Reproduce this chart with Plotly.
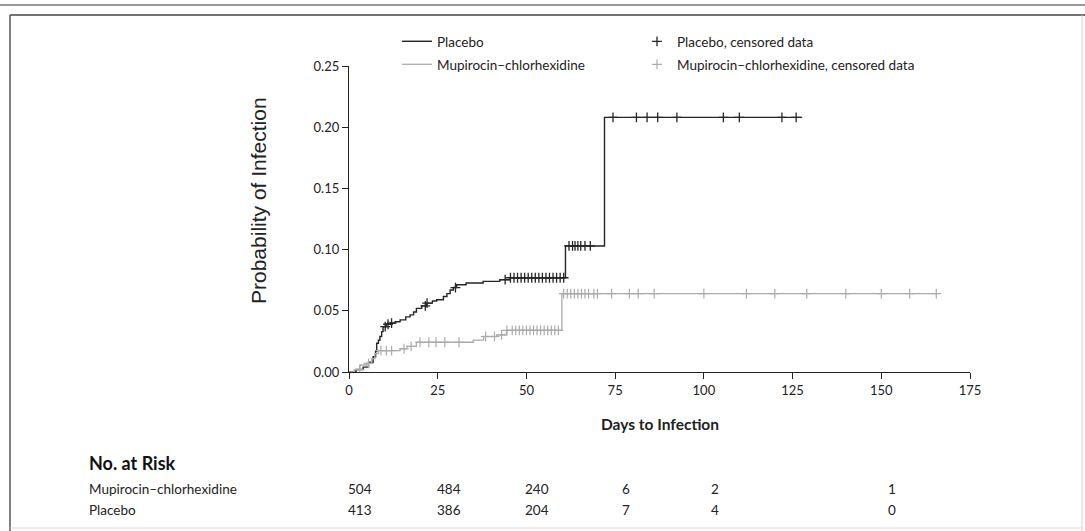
import numpy as np
import plotly.graph_objects as go

# ---------------- data ----------------
# cumulative probability of infection (step function), time in days
placebo_days = [0, 2, 4, 5.5, 6.8, 7.5, 7.8, 8.3, 8.7, 9.2, 9.6, 10.5, 11.6, 13, 14.4, 16, 17.2, 18.2,
                19, 20.5, 21.9, 23.5, 24.7, 26.6, 27.6, 28.5, 29.4, 30.3, 33, 37.8, 42.5, 45.4, 61, 72]
placebo_prob = [0, 0.002, 0.004, 0.008, 0.0125, 0.017, 0.0235, 0.026, 0.029, 0.033, 0.037, 0.039, 0.040,
                0.041, 0.0426, 0.045, 0.0467, 0.049, 0.052, 0.054, 0.0563, 0.058, 0.059, 0.0617, 0.064,
                0.067, 0.069, 0.0713, 0.0727, 0.074, 0.0754, 0.0770, 0.103, 0.208]
placebo_end = 127.7

mupi_days = [0, 1.5, 3.1, 5, 6.4, 7.3, 8.3, 14.4, 16.3, 19, 35, 37.9, 41.6, 44.4, 60]
mupi_prob = [0, 0.002, 0.0057, 0.007, 0.011, 0.015, 0.0175, 0.019, 0.021, 0.0243, 0.026, 0.029,
             0.0303, 0.0340, 0.064]
mupi_end = 166

placebo_cens = [10.2, 11, 12, 21.5, 22, 30, 44, 45.5, 46.5, 47.5, 48.5, 49.5, 50.5, 51.5, 52.5, 53.5,
                54.5, 55.5, 56.5, 57.5, 58.5, 59.5, 60.5, 62, 63, 63.7, 64.5, 65.3, 66.5, 68,
                74.4, 81, 84, 87, 92.4, 105.5, 110, 122, 126]
mupi_cens = [3, 5.5, 9, 10.5, 12, 15.5, 17.5, 20, 22.5, 24.5, 27, 31, 38.5, 41, 43, 44.5, 46, 47,
             48, 49, 50, 51, 52, 53, 54, 55, 56, 57, 58, 59, 60.5, 61.5, 62.5, 63.5, 64.5, 65.5, 66.5,
             67.5, 69, 70, 74, 79, 81.5, 86, 100, 112, 120, 129, 140, 150, 158, 165.5]

risk_days = [0, 25, 50, 75, 100, 150]
risk_mupi = ["504", "484", "240", "6", "2", "1"]
risk_placebo = ["413", "386", "204", "7", "4", "0"]

x_ticks = [0, 25, 50, 75, 100, 125, 150, 175]
y_ticks = [0.00, 0.05, 0.10, 0.15, 0.20, 0.25]
y_ticklabels = ["0.00", "0.05", "0.10", "0.15", "0.20", "0.25"]

# ---------------- helpers ----------------
W, H = 1085, 531
X0, X1, Y0, Y1 = 349, 970, 66, 372   # plot area in pixels
PW, PH = X1 - X0, Y1 - Y0


def px(xp):
    return (xp - X0) / PW


def py(yp):
    return (Y1 - yp) / PH


def step_at(days, probs, t):
    idx = np.searchsorted(np.array(days), np.array(t), side="right") - 1
    return np.array(probs)[idx]


DARK = "#262626"
GRAY = "#ababab"
FONT = "Lato"
TXT = "#222"

fig = go.Figure()

fig.add_trace(go.Scatter(
    x=placebo_days + [placebo_end], y=placebo_prob + [placebo_prob[-1]],
    mode="lines", line=dict(color=DARK, width=1.4, shape="hv"),
    name="Placebo", legend="legend", legendwidth=195))
fig.add_trace(go.Scatter(
    x=mupi_days + [mupi_end], y=mupi_prob + [mupi_prob[-1]],
    mode="lines", line=dict(color=GRAY, width=1.3, shape="hv"),
    name="Mupirocin–chlorhexidine", legend="legend2", legendwidth=195))
fig.add_trace(go.Scatter(
    x=placebo_cens, y=step_at(placebo_days, placebo_prob, placebo_cens),
    mode="markers", marker=dict(symbol="cross-thin-open", size=7, color=DARK,
                                line=dict(color=DARK, width=1.3)),
    name="Placebo, censored data", legend="legend", legendwidth=320))
fig.add_trace(go.Scatter(
    x=mupi_cens, y=step_at(mupi_days, mupi_prob, mupi_cens),
    mode="markers", marker=dict(symbol="cross-thin-open", size=7, color=GRAY,
                                line=dict(color=GRAY, width=1.2)),
    name="Mupirocin–chlorhexidine, censored data", legend="legend2", legendwidth=320))


def note(x, y, text, size=13.5, family=FONT, xanchor="center", xref="paper", **kw):
    return dict(x=x, y=y, xref=xref, yref="paper", text=text, xanchor=xanchor, yanchor="middle",
                showarrow=False, font=dict(family=family, size=size, color=kw.pop("color", TXT)), **kw)


annotations = [
    note(px(258), py(201), "Probability of Infection", size=21, family="Liberation Sans", textangle=-90),
    note(px(660), py(424), "<b>Days to Infection</b>", size=15.5),
    note(px(87), py(463), "<b>No. at Risk</b>", size=18, xanchor="left", color="#111"),
    note(px(87), py(489), "Mupirocin–chlorhexidine", xanchor="left"),
    note(px(87), py(510), "Placebo", xanchor="left"),
]
for d, a, b in zip(risk_days, risk_mupi, risk_placebo):
    annotations.append(note(d, py(489), a, xref="x", xshift=11))
    annotations.append(note(d, py(510), b, xref="x", xshift=11))

shapes = [
    dict(type="line", xref="paper", yref="paper", x0=px(0), x1=px(W), y0=py(5), y1=py(5),
         line=dict(color="#9a9a9a", width=2)),
    dict(type="line", xref="paper", yref="paper", x0=px(10), x1=px(W), y0=py(15), y1=py(15),
         line=dict(color="#444", width=1.5)),
    dict(type="line", xref="paper", yref="paper", x0=px(10), x1=px(10), y0=py(15), y1=py(H),
         line=dict(color="#555", width=1.5)),
    dict(type="line", xref="paper", yref="paper", x0=px(1082), x1=px(1082), y0=py(15), y1=py(H),
         line=dict(color="#cfcfcf", width=1)),
    dict(type="line", xref="paper", yref="paper", x0=px(10), x1=px(1082), y0=py(528), y1=py(528),
         line=dict(color="#d8d8d8", width=1)),
]

legend_common = dict(orientation="h", xanchor="left", yanchor="top",
                     itemwidth=30, traceorder="normal",
                     font=dict(family=FONT, size=13.5, color=TXT), bgcolor="rgba(0,0,0,0)")

fig.update_layout(
    width=W, height=H,
    margin=dict(l=X0, r=W - X1, t=Y0, b=H - Y1),
    paper_bgcolor="white", plot_bgcolor="white",
    font=dict(family=FONT, size=13, color=TXT),
    xaxis=dict(range=[0, 175], tickvals=x_ticks, ticks="outside", ticklen=6, tickwidth=1.2,
               tickcolor=TXT, showline=True, linecolor=TXT, linewidth=1.3, showgrid=False,
               zeroline=False, automargin=False, tickfont=dict(family=FONT, size=13, color=TXT)),
    yaxis=dict(range=[0, 0.25], tickvals=y_ticks, ticktext=y_ticklabels, ticks="outside", ticklen=6,
               tickwidth=1.2, tickcolor=TXT, showline=True, linecolor=TXT, linewidth=1.3,
               showgrid=False, zeroline=False, automargin=False,
               tickfont=dict(family=FONT, size=13, color=TXT)),
    legend=dict(x=px(397), y=py(26), **legend_common),
    legend2=dict(x=px(397), y=py(49), **legend_common),
    annotations=annotations,
    shapes=shapes,
    showlegend=True,
)

fig.write_html("out.html", config={"displayModeBar": False},
               post_script="document.body.style.margin='0';")
